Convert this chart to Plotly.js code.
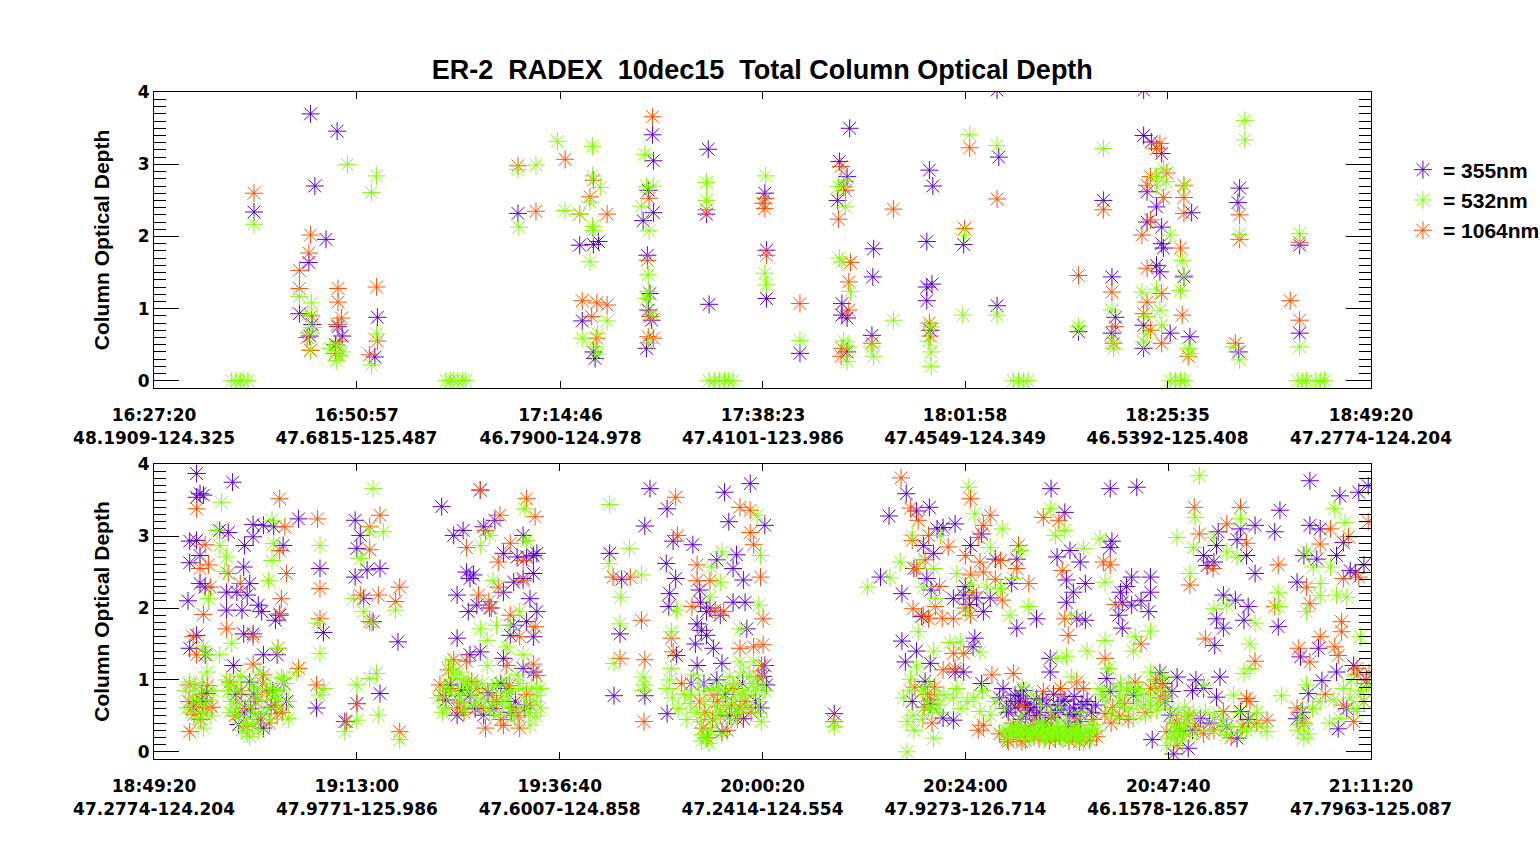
<!DOCTYPE html>
<html>
<head>
<meta charset="utf-8">
<script src="https://cdn.plot.ly/plotly-3.0.1.min.js"></script>
<style>
  body { margin: 0; background: #fff; }
  #chart { width: 1540px; height: 845px; }
</style>
</head>
<body>
<div id="chart"></div>
<script>
const chartTitle = "ER-2\u00a0 RADEX\u00a0 10dec15\u00a0 Total Column Optical Depth"
const yTitle = "Column Optical Depth"

// tick labels: time (UT) and lat-lon of the aircraft
const topTimes = ["16:27:20", "16:50:57", "17:14:46", "17:38:23", "18:01:58", "18:25:35", "18:49:20"]
const topPos = ["48.1909-124.325", "47.6815-125.487", "46.7900-124.978", "47.4101-123.986", "47.4549-124.349", "46.5392-125.408", "47.2774-124.204"]
const botTimes = ["18:49:20", "19:13:00", "19:36:40", "20:00:20", "20:24:00", "20:47:40", "21:11:20"]
const botPos = ["47.2774-124.204", "47.9771-125.986", "47.6007-124.858", "47.2414-124.554", "47.9273-126.714", "46.1578-126.857", "47.7963-125.087"]

const waveNames = ["355nm", "532nm", "1064nm"]
const waveColors = ["#5a00d2", "#80ff00", "#ff5000"]

// time = minutes after 16:00 UT, od = column optical depth

// ---- 355nm ----
const t355Top = [39.0, 45.6, 46.1, 47.4, 45.4, 44.3, 45.8, 45.5, 48.7, 48.8, 49.3, 48.5, 53.4, 53.1,
  69.8, 77.0, 78.6, 79.2, 77.3, 78.8, 78.6,
  85.5, 85.6, 85.0, 85.6, 84.4, 84.9, 85.2, 85.0, 85.4, 84.8, 92.0, 91.8, 92.1,
  98.6, 98.8, 98.8, 102.7, 108.5, 107.3, 108.2, 107.1, 107.6, 107.6, 108.2, 108.2,
  111.3, 111.2, 111.1, 117.8, 118.2, 117.5, 118.1, 117.5, 117.5, 117.9,
  125.7, 125.9, 121.8, 125.7, 138.1, 139.1, 135.2, 139.5, 139.1,
  142.8, 142.8, 143.7, 144.9, 143.2, 144.3, 148.4, 143.2, 144.9, 144.9, 145.1, 144.3, 144.7, 147.5, 142.8, 145.9, 142.8, 148.2,
  154.0, 153.8, 153.9, 161.0, 161.0]
const od355Top = [2.34, 3.70, 2.70, 1.96, 1.64, 0.93, 0.78, 0.62, 3.46, 0.75, 0.62, 0.50, 0.88, 0.33,
  2.32, 1.88, 1.89, 1.93, 0.83, 0.31, 0.40,
  3.41, 3.05, 2.64, 2.33, 2.22, 1.74, 1.21, 0.98, 0.84, 0.45, 3.21, 2.31, 1.06,
  2.60, 1.81, 1.14, 0.38, 3.50, 3.04, 2.83, 2.50, 1.07, 0.91, 0.87, 0.40,
  1.83, 1.44, 0.63, 2.92, 2.70, 1.93, 1.34, 1.30, 1.11, 0.70,
  4.03, 3.10, 1.89, 1.04, 2.50, 1.44, 0.68, 0.88, 0.66,
  4.03, 3.40, 3.31, 3.15, 2.62, 2.41, 2.33, 2.20, 2.13, 1.90, 1.84, 1.60, 1.51, 1.44, 0.77, 0.66, 0.45, 0.61,
  2.67, 2.47, 0.40, 1.88, 0.66]

const t355Bot = [174.3, 174.7, 175.1, 174.3, 173.5, 174.3, 173.5, 174.7, 174.7, 175.3, 173.3, 174.3, 173.5, 175.3, 175.5,
  178.5, 177.0, 178.0, 179.9, 180.9, 180.9, 182.1, 183.3, 184.4, 179.8, 177.8, 179.0, 180.5, 180.2, 181.5, 181.9,
  177.8, 179.6, 183.5, 179.8, 180.9, 184.0, 178.6, 180.5, 182.1, 183.7, 184.8, 182.1, 179.2, 181.0, 183.0, 179.9,
  186.2, 188.7, 189.1, 188.3, 192.8, 193.4, 192.8, 193.0, 194.2, 195.7, 193.8, 194.9, 195.7, 197.8, 191.6, 193.0,
  202.9, 204.3, 205.4, 207.4, 207.8, 209.1, 210.1, 211.7, 212.4, 212.8, 213.6, 214.0, 206.2, 205.8,
  206.6, 204.7, 206.0, 207.0, 208.5, 210.1, 211.3, 212.4, 213.6, 214.0, 213.2, 212.8, 210.9, 211.3, 213.6,
  204.7, 206.2, 207.4, 210.1, 212.4, 203.9, 206.2, 207.8, 210.5, 213.6, 204.7, 209.0, 211.5,
  227.2, 229.2, 226.6, 222.5, 223.9, 229.1, 229.9, 232.2, 230.2, 229.5, 229.4, 223.7, 232.7, 233.2, 233.8,
  234.6, 232.5, 232.7, 235.6, 223.0, 226.6, 229.2, 235.9, 238.9, 236.4, 240.6, 237.3, 236.9, 238.1, 235.0,
  233.1, 233.8, 235.4, 236.9, 238.3, 238.5, 240.6, 240.8, 240.1, 235.6, 238.1, 230.3, 233.0, 234.2, 236.0, 232.0, 248.7,
  257.1, 255.1, 258.3, 259.8, 261.4, 260.7, 259.1, 260.3, 254.1, 256.6, 259.5,
  258.9, 256.6, 258.3, 259.9, 257.0, 257.8, 261.4, 262.6, 262.8, 260.0, 258.0,
  262.8, 264.6, 265.9, 267.5, 270.0, 263.8, 265.3, 266.1, 266.9, 269.4, 270.0, 272.3, 274.0, 275.6, 274.7,
  276.2, 277.4, 275.8, 276.6, 278.0, 275.8, 277.0, 278.0, 265.1, 264.9, 263.8, 265.9, 268.4, 269.8, 273.9,
  273.9, 271.2, 272.3, 262.6, 275.4, 276.6, 277.4, 264.0, 264.5, 268.8, 270.5, 271.8, 273.3, 274.5, 276.0,
  268.0, 269.0, 270.2, 271.0, 272.0, 273.0, 274.0, 275.0, 276.8, 277.6, 270.8,
  280.9, 284.0, 281.1, 280.9, 282.1, 282.3, 283.4, 285.6, 285.6, 285.4, 283.4, 281.9, 282.3, 280.5, 280.9, 283.6, 285.8, 282.8, 284.5,
  288.7, 288.1, 287.9, 288.3,
  291.8, 293.0, 293.3, 292.2, 293.5, 296.1, 295.7, 296.8, 297.8, 297.8, 294.1, 295.5, 297.0, 296.5,
  294.1, 293.3, 293.1, 293.7, 291.8, 293.3, 291.4, 296.1, 295.7, 290.5, 292.5, 294.5, 297.0,
  300.7, 300.1, 304.2, 304.2, 305.4, 307.3, 307.7, 309.9, 308.1, 303.5, 302.7, 305.0, 308.9, 309.5,
  300.5, 305.2, 303.1, 305.6, 304.0, 307.3, 309.3, 307.5, 302.7, 310.5, 311.0, 310.8, 303.3, 308.5,
  173.9, 175.0, 178.9, 180.6, 181.8, 183.2, 184.5,
  203.4, 205.2, 206.8, 208.3, 209.8, 211.0, 212.6, 233.5, 235.0, 236.5, 238.0, 239.5, 240.4,
  259.3, 259.9, 269.3, 269.8, 270.4, 271.0, 271.5, 272.3, 272.7, 273.5, 274.3, 274.8, 275.6, 276.2, 276.7, 277.5, 278.2, 278.7, 279.2,
  286.7, 287.0, 287.3, 290.5, 290.9, 290.0]
const od355Bot = [3.87, 3.59, 3.57, 3.54, 2.93, 2.94, 2.63, 2.73, 2.34, 2.29, 2.10, 1.62, 1.44, 1.35, 0.81,
  3.75, 3.08, 3.05, 2.87, 3.16, 2.99, 3.15, 3.13, 2.87, 2.57, 2.22, 2.22, 2.34, 2.18, 2.04, 1.95,
  1.97, 1.97, 1.83, 1.64, 1.64, 1.90, 1.20, 0.97, 1.35, 1.35, 0.70, 0.33, 0.38, 0.80, 0.62, 0.55,
  3.24, 2.55, 1.66, 0.61, 3.22, 3.01, 2.43, 2.83, 2.53, 2.55, 2.13, 1.81, 0.81, 1.53, 0.42, 0.67,
  3.41, 3.01, 3.08, 3.64, 3.13, 3.22, 2.76, 2.71, 3.01, 2.71, 2.73, 2.76, 2.41, 2.50,
  2.46, 2.18, 1.95, 2.04, 2.00, 2.22, 2.36, 2.41, 2.48, 1.95, 2.13, 1.81, 1.62, 1.76, 1.60,
  1.58, 1.35, 1.39, 1.30, 1.16, 0.93, 0.79, 0.51, 0.88, 1.11, 0.51, 0.60, 0.70,
  3.66, 3.38, 3.14, 2.76, 2.40, 2.62, 2.93, 2.88, 2.41, 2.20, 2.02, 1.64, 1.78, 1.69, 1.62,
  1.44, 1.50, 1.20, 1.23, 0.78, 0.78, 0.53, 3.61, 3.73, 3.20, 3.15, 2.74, 2.55, 2.39, 2.67,
  2.08, 1.95, 1.90, 2.08, 2.08, 1.71, 1.20, 0.93, 0.61, 0.28, 0.46, 1.34, 2.25, 2.00, 0.80, 0.95, 0.53,
  3.59, 3.28, 3.35, 3.40, 3.12, 3.10, 2.87, 2.76, 2.43, 2.20, 2.41,
  1.88, 1.54, 1.40, 1.23, 1.25, 0.70, 0.47, 2.13, 1.11, 2.25, 2.55,
  3.17, 2.87, 3.03, 2.68, 2.68, 2.18, 2.14, 1.95, 2.14, 2.34, 1.72, 1.85, 3.66, 3.33, 2.71,
  2.80, 2.64, 2.39, 2.22, 2.34, 2.08, 1.85, 1.83, 1.58, 1.46, 1.11, 0.95, 0.88, 0.79, 1.30,
  1.11, 0.65, 0.51, 0.44, 0.70, 0.61, 0.42, 2.30, 2.05, 0.60, 0.45, 0.35, 0.40, 0.55, 0.35,
  0.75, 0.55, 0.70, 0.50, 0.62, 0.72, 0.48, 0.58, 0.50, 0.66, 0.85,
  3.66, 3.68, 2.93, 2.84, 2.22, 2.08, 2.43, 2.43, 2.22, 1.95, 2.04, 1.90, 1.72, 1.02, 0.84, 0.79, 0.17, 2.30, 2.10,
  1.04, 0.84, 0.51, -0.03,
  2.73, 2.64, 2.87, 2.59, 3.06, 3.10, 2.95, 2.73, 3.15, 2.48, 2.18, 2.11, 2.02, 1.83,
  1.72, 1.85, 1.48, 1.04, 0.88, 0.76, 0.46, 0.56, 0.19, 0.30, 0.40, 0.35, 0.45,
  3.36, 3.06, 3.77, 3.15, 3.10, 2.73, 3.56, 3.61, 2.91, 2.73, 2.36, 2.68, 2.52, 2.49,
  1.74, 1.44, 1.32, 0.99, 0.81, 1.11, 1.20, 0.32, 0.46, 2.60, 3.70, 1.00, 0.55, 0.60,
  0.62, 0.70, 0.80, 0.60, 0.45, 0.85, 0.95,
  0.72, 0.85, 0.60, 0.82, 0.95, 0.55, 0.60, 0.95, 1.00, 0.50, 0.95, 0.70, 1.05,
  0.98, 0.66, 0.70, 0.62, 0.78, 0.68, 0.58, 0.74, 0.55, 0.66, 0.80, 0.64, 0.72, 0.52, 0.77, 0.60, 0.70, 0.55, 0.65,
  1.10, 0.95, 0.70, 0.85, 1.00, 0.05]

// ---- 532nm ----
const t532Top = [36.4, 36.9, 37.4, 37.8, 38.3, 39.0,
  44.3, 45.7, 45.3, 45.9, 45.4, 45.6, 47.9, 48.7, 49.0, 48.6, 49.3, 49.9, 52.7, 53.3, 53.3, 52.7,
  61.4, 61.9, 62.3, 62.8, 63.3, 63.7, 69.8, 69.9, 71.9,
  74.4, 78.5, 78.5, 79.4, 78.2, 75.3, 77.0, 78.5, 78.6, 78.2, 80.2, 77.3, 79.1, 78.8, 79.0,
  84.6, 84.8, 85.6, 84.2, 85.1, 85.0, 85.0, 84.8, 85.4, 85.0, 91.8, 91.8,
  92.1, 92.7, 93.3, 93.9, 94.4, 94.9, 98.7, 98.6, 98.8, 102.7,
  107.2, 108.0, 108.0, 107.3, 107.6, 108.6, 108.4, 108.2, 107.8, 113.6, 111.1, 111.3,
  117.9, 117.7, 118.0, 118.0, 122.5, 125.7, 121.9, 121.7, 125.7,
  127.6, 128.2, 128.8, 129.3, 138.1, 135.2, 139.1, 139.3, 139.2,
  145.1, 144.3, 144.3, 145.4, 147.6, 145.9, 147.3, 147.5, 147.1, 142.6, 144.3, 144.7, 143.2, 144.9, 143.2, 142.8, 148.0, 148.2,
  145.9, 146.5, 147.1, 147.6, 154.6, 154.6, 154.0, 153.3, 154.0, 161.0, 161.0,
  160.8, 161.3, 161.8, 162.9, 163.4, 163.9]
const od532Top = [0, 0, 0, 0, 0, 2.17,
  1.17, 1.08, 0.92, 0.74, 0.66, 0.43, 0.45, 0.50, 0.35, 0.28, 0.40, 3.00, 2.61, 2.84, 0.65, 0.22,
  0, 0, 0, 0, 0, 0, 2.93, 2.13, 2.99,
  3.32, 3.25, 2.84, 2.68, 2.48, 2.36, 2.31, 2.14, 2.08, 1.65, 0.83, 0.59, 0.65, 0.47, 0.37,
  3.14, 2.69, 2.70, 2.42, 2.08, 1.47, 1.24, 1.14, 0.93, 0.52, 2.75, 2.50,
  0, 0, 0, 0, 0, 0, 2.84, 1.49, 1.33, 0.56,
  2.69, 2.78, 2.41, 1.70, 1.65, 1.24, 0.47, 0.27, 0.55, 0.84, 0.47, 0.34,
  0.75, 0.55, 0.40, 0.20, 3.41, 3.26, 2.02, 0.91, 0.91,
  0, 0, 0, 0, 3.22, 0.75, 0.98, 0.45, 0.55,
  2.94, 2.83, 2.71, 2.76, 2.70, 2.02, 1.67, 1.46, 1.25, 1.23, 1.27, 0.98, 0.89, 0.77, 0.66, 0.54, 0.45, 0.38,
  0, 0, 0, 0, 3.61, 3.34, 2.03, 0.47, 0.29, 2.04, 0.47,
  0, 0, 0, 0, 0, 0]

const t532Bot = [175.7, 175.1, 173.5, 173.2, 174.5, 174.7, 175.5, 175.5, 175.1, 173.8, 174.9, 175.2,
  177.2, 176.7, 177.0, 177.8, 177.6, 183.1, 183.3, 183.1, 182.7, 178.4, 177.0, 183.8, 184.2, 186.0, 185.0,
  178.6, 179.0, 179.8, 180.2, 180.5, 181.3, 182.1, 182.9, 183.7, 184.4, 181.7, 179.4, 178.0, 178.4, 179.2, 179.6, 180.0, 180.4,
  180.8, 181.0, 181.5, 181.9, 182.3, 182.6, 183.0, 183.4, 183.9, 184.2, 184.6, 185.0, 177.8, 178.2, 179.0, 180.6, 181.1,
  188.7, 188.4, 188.7, 188.7, 189.1, 194.9, 194.5, 196.1, 193.4, 192.6, 193.8, 194.7, 197.5, 193.0, 194.5, 195.3, 195.5, 191.6, 193.0, 198.0,
  212.6, 212.8, 208.5, 207.4, 208.9, 212.0, 207.4, 209.3, 210.9, 208.2, 210.5, 212.4, 205.0, 204.7, 203.9, 205.8,
  207.0, 208.2, 209.3, 210.5, 211.7, 212.4, 213.6, 214.4, 203.5, 206.6, 208.5, 210.9, 213.2, 214.4,
  204.2, 205.4, 206.4, 207.8, 209.0, 210.0, 211.0, 212.0, 213.0, 214.0, 203.2, 204.0, 205.2,
  222.5, 224.8, 222.4, 226.2, 223.8, 223.7, 223.0, 226.4, 226.6, 229.7, 229.7, 230.3, 234.4, 235.6, 235.4, 234.2, 239.9, 237.7,
  240.1, 239.7, 232.3, 229.2, 231.9, 233.1, 233.4, 233.2, 234.6, 236.2, 236.9, 238.1, 239.3, 240.2, 235.6, 237.7, 239.3,
  232.0, 232.6, 233.5, 234.0, 234.8, 235.2, 235.8, 236.5, 237.1, 237.5, 237.9, 238.4, 238.8, 239.6, 240.0, 240.6, 229.8, 230.5, 231.2, 231.5, 226.4, 229.5,
  248.7, 252.6, 255.2, 256.4, 257.8, 258.7, 260.3, 261.1, 259.1, 260.5, 258.5, 260.3, 262.2, 257.6,
  258.3, 259.7, 257.2, 257.9, 260.3, 257.2, 262.6, 256.8, 257.5, 258.0, 259.0, 260.8, 261.5,
  264.4, 265.1, 266.9, 268.3, 270.4, 263.0, 264.6, 266.5, 268.1, 269.6, 271.4, 264.2, 269.2, 273.9, 274.5,
  275.6, 277.8, 276.4, 263.4, 265.7, 263.0, 264.2, 265.7, 266.9, 268.6, 270.6, 271.9, 274.7, 275.8, 278.2,
  276.4, 273.9, 268.4, 270.0, 271.6, 272.7, 273.9, 275.1, 276.2, 277.4, 277.8, 269.2, 271.9, 274.7, 277.0,
  268.8, 269.5, 270.3, 270.8, 271.2, 272.2, 273.0, 273.5, 274.2, 274.9, 275.5, 276.0, 276.8, 277.2, 278.0,
  272.5, 275.8, 270.5, 277.5, 263.5, 265.0, 266.0, 267.5, 272.8, 275.0,
  279.7, 280.3, 283.8, 283.6, 285.6, 280.3, 280.7, 282.1, 285.6, 279.7, 281.7, 283.6, 285.6, 280.5, 281.0, 282.0, 282.8, 283.2, 284.5, 285.0, 280.0, 284.0,
  287.5, 287.9, 287.9, 289.1, 289.5, 287.5, 288.3, 288.8, 287.8,
  291.3, 290.8, 288.7, 290.6, 293.0, 294.5, 295.7, 296.1, 290.2, 293.0, 294.5, 297.8, 297.2, 296.5, 297.2, 291.8, 295.3,
  293.0, 293.7, 296.1, 297.2, 294.5, 291.0, 299.2, 290.5, 292.0, 292.5, 294.0, 295.0, 295.9, 296.8, 298.0, 298.5,
  303.8, 304.6, 306.6, 305.4, 307.1, 308.3, 300.5, 300.5, 303.8, 305.4, 307.3, 308.5, 310.1, 303.8, 305.4, 303.1, 303.5,
  303.5, 308.1, 308.9, 309.7, 307.7, 309.3, 310.1, 300.9, 302.8, 303.0, 304.0, 304.5, 309.0, 310.5, 311.0, 306.5, 307.0,
  173.0, 173.7, 174.1, 174.6, 175.0, 175.8, 176.2, 176.0,
  202.5, 203.0, 203.7, 204.9, 205.6, 206.0, 206.9, 207.6, 208.0, 208.8, 209.6, 210.3, 210.7, 211.4, 211.9, 212.7, 213.4, 213.9,
  232.9, 233.7, 234.3, 234.9, 235.4, 236.1, 236.7, 237.3, 238.0, 238.6, 239.1, 239.8, 240.4, 233.8, 234.1,
  259.0, 259.4, 259.8, 260.2, 260.6, 261.0,
  268.7, 269.1, 269.9, 270.6, 271.4, 271.8, 272.4, 272.9, 273.3, 273.7, 274.4, 274.6, 275.3,
  275.7, 276.3, 276.6, 277.0, 277.6, 278.3, 278.6, 279.0, 279.4, 278.8, 270.1, 273.1,
  281.3, 281.9, 282.4, 283.0, 284.2, 284.8, 285.3, 286.0, 286.5, 286.9, 287.2, 286.3,
  288.4, 288.9, 289.3, 289.8, 290.2, 290.6, 289.6]
const od532Bot = [2.13, 1.46, 0.97, 0.61, 0.46, 0.79, 1.11, 1.35, 0.33, 0.75, 0.55, 0.65,
  3.47, 3.08, 2.87, 2.71, 2.51, 3.22, 2.90, 2.66, 2.38, 1.51, 1.35, 1.44, 1.04, 1.11, 0.46,
  0.93, 0.61, 0.38, 0.25, 0.21, 0.79, 0.51, 0.88, 0.74, 1.02, 1.11, 1.05, 0.85, 0.70, 0.50, 0.30, 0.45, 0.65,
  0.40, 0.55, 0.30, 0.72, 0.95, 0.60, 0.45, 0.80, 0.62, 0.85, 0.95, 0.70, 1.00, 0.55, 0.85, 0.90, 0.95,
  2.87, 1.79, 1.37, 0.79, 0.88, 3.66, 3.06, 3.06, 2.69, 2.13, 1.95, 1.79, 1.97, 0.93, 1.02, 1.09, 0.51, 0.28, 0.44, 0.17,
  3.38, 2.94, 3.01, 2.87, 2.38, 1.95, 1.71, 1.76, 1.76, 1.55, 1.46, 1.35, 1.11, 1.02, 1.25, 0.88,
  0.93, 1.20, 0.93, 0.83, 1.07, 0.88, 0.70, 0.88, 0.61, 0.65, 0.56, 0.56, 0.37, 0.61,
  1.08, 0.95, 0.80, 0.75, 0.68, 0.72, 0.85, 0.60, 0.55, 0.78, 0.90, 1.15, 0.70,
  3.44, 2.83, 2.62, 2.46, 2.15, 1.78, 1.23, 1.04, 0.93, 1.67, 1.16, 1.97, 2.57, 2.78, 2.36, 2.15, 2.04, 1.71,
  2.73, 3.29, 1.07, 0.88, 0.67, 0.42, 0.24, 0.15, 0.88, 0.61, 0.93, 1.11, 0.79, 0.42, 0.24, 1.25, 1.25,
  0.80, 0.55, 0.70, 0.50, 0.65, 0.90, 0.75, 1.05, 0.75, 0.95, 0.60, 0.85, 1.05, 0.90, 0.70, 0.85, 0.75, 0.60, 0.80, 0.45, 0.85, 1.00,
  0.35, 2.29, 2.42, 2.64, 3.01, 2.62, 2.55, 3.01, 2.29, 2.13, 1.67, 1.40, 1.52, 1.01,
  1.18, 0.61, 0.42, 0.51, 0.19, 0.00, 0.75, 0.75, 0.85, 0.30, 0.45, 0.65, 0.80,
  3.68, 3.31, 2.84, 3.10, 2.80, 2.48, 2.32, 2.29, 2.27, 2.41, 2.02, 1.95, 1.90, 3.38, 3.01,
  3.08, 2.83, 1.90, 1.53, 1.39, 0.88, 0.70, 0.56, 0.51, 0.61, 0.90, 0.79, 1.30, 1.33, 1.40,
  1.04, 0.56, 0.28, 0.24, 0.24, 0.19, 0.24, 0.19, 0.28, 0.19, 0.14, 0.33, 0.33, 0.42, 0.33,
  0.20, 0.30, 0.35, 0.18, 0.28, 0.30, 0.35, 0.22, 0.30, 0.30, 0.25, 0.18, 0.22, 0.30, 0.25,
  0.40, 0.45, 0.50, 0.55, 0.60, 0.75, 0.85, 0.70, 0.65, 0.62,
  2.96, 2.36, 1.60, 1.40, 1.68, 1.55, 1.16, 0.95, 1.11, 0.88, 0.46, 0.46, 0.65, 0.70, 0.55, 0.70, 0.85, 0.60, 0.80, 0.50, 0.80, 0.70,
  0.75, 0.42, 0.19, 0.24, 0.40, 0.09, 0.30, 0.55, 0.60,
  3.84, 3.26, 2.98, 2.84, 2.98, 2.78, 2.71, 3.24, 2.48, 1.99, 2.04, 1.79, 1.50, 1.09, 1.16, 0.93, 0.79,
  0.51, 0.37, 0.28, 0.42, 0.24, 0.28, 0.28, 0.45, 0.55, 0.30, 0.45, 0.35, 0.55, 0.30, 0.55, 0.35,
  2.78, 2.57, 2.57, 2.34, 3.38, 3.19, 2.22, 2.02, 1.95, 2.17, 2.18, 2.15, 1.60, 0.93, 0.70, 0.56, 0.37,
  0.19, 0.88, 0.75, 0.56, 0.46, 0.60, 0.85, 0.78, 0.30, 0.45, 0.25, 0.60, 1.00, 0.70, 0.90, 0.40, 0.72,
  0.85, 0.55, 0.90, 0.68, 0.95, 0.72, 0.85, 0.50,
  0.75, 0.55, 0.85, 0.80, 0.58, 1.00, 0.70, 0.95, 0.62, 0.90, 0.52, 1.00, 0.65, 0.48, 0.95, 0.70, 0.90, 0.50,
  0.95, 0.85, 0.30, 0.45, 0.55, 0.85, 0.45, 0.55, 0.80, 0.65, 0.95, 0.55, 0.95, 0.18, 0.12,
  0.85, 0.70, 0.95, 0.60, 0.78, 0.55,
  0.30, 0.22, 0.27, 0.32, 0.20, 0.27, 0.23, 0.31, 0.17, 0.28, 0.21, 0.35, 0.28,
  0.19, 0.33, 0.24, 0.18, 0.27, 0.32, 0.20, 0.26, 0.30, 0.38, 0.38, 0.40,
  0.90, 0.78, 0.62, 0.95, 0.88, 0.65, 0.80, 0.92, 0.70, 0.85, 1.05, 0.58,
  0.20, 0.35, 0.15, 0.45, 0.25, 0.55, 0.62]

// ---- 1064nm ----
const t1064Top = [39.0, 45.6, 45.4, 44.3, 44.3, 45.7, 45.2, 45.6, 48.8, 48.8, 49.2, 48.7, 49.0, 48.5, 53.3, 53.4, 52.5,
  69.8, 71.9, 75.3, 78.6, 78.2, 77.0, 80.2, 77.3, 79.0, 80.2, 78.4, 79.0,
  85.5, 85.1, 84.9, 85.2, 85.0, 85.6, 91.8, 98.7, 98.6, 98.4, 98.8, 102.7,
  107.5, 107.8, 108.0, 107.2, 108.6, 108.4, 108.4, 107.6, 107.5, 113.6, 111.1, 117.8, 117.9,
  122.5, 125.7, 121.9, 138.1, 135.2, 139.1, 139.5, 139.3,
  144.7, 144.3, 145.5, 143.6, 143.2, 145.1, 147.5, 147.5, 147.5, 143.6, 142.6, 147.1, 143.2, 147.3, 143.2, 144.9, 142.8, 143.6, 144.9, 148.0,
  154.0, 154.0, 153.5, 159.9, 161.0, 161.0]
const od1064Top = [2.60, 2.02, 1.77, 1.53, 1.28, 0.90, 0.60, 0.42, 1.28, 1.09, 0.87, 0.78, 0.55, 0.38, 1.30, 0.55, 0.36,
  2.98, 2.35, 3.07, 2.78, 2.55, 2.31, 2.31, 1.11, 1.08, 1.05, 0.89, 0.59,
  3.66, 2.53, 1.67, 0.89, 0.61, 0.59, 2.37, 2.53, 2.39, 2.46, 1.74, 1.07,
  2.97, 2.69, 2.64, 2.24, 1.64, 1.37, 0.98, 0.45, 0.34, 2.38, 0.52, 0.80, 0.62,
  3.23, 2.52, 2.11, 2.37, 1.46, 1.23, 0.75, 0.52,
  3.29, 3.22, 2.88, 2.83, 2.71, 2.54, 2.71, 2.54, 2.32, 2.23, 2.02, 1.84, 1.56, 0.91, 1.09, 1.21, 0.93, 0.70, 0.52, 0.34,
  2.30, 1.96, 0.52, 1.11, 1.92, 0.84]

const t1064Bot = [174.3, 175.3, 174.7, 175.7, 175.9, 175.1, 173.9, 174.3, 173.5, 174.3, 175.5, 173.5, 174.9,
  184.0, 184.6, 184.0, 184.8, 184.2, 184.0, 178.0, 177.8, 180.9, 179.4, 180.9, 182.1, 183.8, 183.7, 186.2, 178.2, 182.5, 180.0, 181.5, 179.0,
  188.4, 188.7, 188.7, 188.3, 194.5, 195.7, 194.5, 193.4, 195.5, 194.5, 197.5, 198.0, 198.0, 193.0, 191.8,
  207.4, 208.0, 209.7, 210.9, 212.8, 213.8, 209.5, 212.4, 205.8, 207.2, 208.4, 208.7, 209.5, 212.4, 210.9, 212.0,
  213.8, 204.3, 203.7, 205.8, 210.5, 213.6, 214.0, 202.7, 204.7, 208.0, 210.1, 212.0, 211.3, 209.3, 207.0, 205.5, 212.8,
  230.2, 230.4, 226.2, 223.7, 226.6, 226.5, 222.9, 224.9, 229.7, 229.9, 232.7, 232.7, 234.2, 232.1, 234.8, 235.8, 237.7,
  238.9, 238.9, 239.3, 240.1, 240.4, 237.7, 239.3, 240.4, 234.6, 236.9, 233.4, 235.4, 237.7, 230.9, 233.0, 236.2,
  248.7, 256.5, 257.6, 258.5, 259.7, 257.8, 258.3, 259.3, 257.9, 259.1, 259.7, 261.3, 260.5, 258.1, 260.1, 261.4, 262.6, 261.0, 262.0,
  264.6, 266.1, 266.9, 265.5, 264.0, 265.7, 268.1, 270.2, 264.6, 266.1, 264.9, 271.4, 268.3, 262.6, 264.6,
  273.1, 274.9, 275.3, 275.6, 276.0, 263.8, 262.8, 267.1, 269.6, 270.6, 266.1, 265.5, 269.0, 270.6, 273.1, 275.1,
  277.8, 277.0, 264.0, 267.5, 270.0, 272.0, 273.5, 274.5, 276.5, 277.5, 271.0, 268.0, 280.1,
  280.9, 280.3, 283.8, 285.6, 280.3, 282.6, 281.5, 284.5, 281.0, 283.0, 285.0, 287.5, 288.7, 289.0,
  290.7, 291.3, 292.9, 294.5, 296.1, 296.8, 290.2, 292.0, 297.8, 296.8, 297.2, 294.1, 299.2, 291.8, 293.0, 295.0, 296.3, 298.0,
  300.5, 300.1, 305.4, 306.6, 308.7, 303.8, 304.2, 308.1, 309.9, 302.9, 304.2, 305.4, 307.1, 307.9,
  307.9, 307.5, 309.7, 309.7, 302.7, 308.1, 309.3, 310.8, 311.0, 310.5, 303.5, 306.0, 311.1,
  173.4, 174.0, 174.8, 175.6, 176.1, 178.8, 179.5, 180.2, 181.2, 182.0, 182.8, 183.5, 184.3,
  203.0, 204.0, 205.0, 206.4, 207.5, 208.8, 209.8, 210.8, 211.8, 213.2,
  233.6, 234.5, 235.1, 236.7, 237.4, 238.3, 239.0, 239.8, 240.2, 233.9,
  259.2, 259.6, 260.0, 260.4,
  268.9, 270.0, 271.0, 272.6, 273.8, 275.0, 276.1, 277.3, 278.5, 279.3, 269.6, 272.0, 274.0, 276.9, 278.9,
  281.2, 282.0, 286.2, 286.8, 287.0, 288.6, 289.5, 290.1, 290.8]
const od1064Bot = [3.38, 2.88, 2.55, 2.60, 2.29, 1.91, 1.60, 1.35, 0.93, 0.68, 0.61, 0.28, 0.80,
  3.52, 3.13, 2.80, 2.48, 2.13, 1.92, 2.48, 1.71, 1.60, 2.34, 1.22, 1.07, 1.44, 0.53, 1.16, 0.97, 0.83, 0.60, 0.45, 0.70,
  3.24, 2.27, 1.85, 0.93, 3.13, 3.29, 2.81, 2.18, 2.18, 1.81, 2.09, 2.29, 0.28, 0.67, 0.42,
  3.64, 3.08, 3.29, 2.90, 3.52, 3.27, 2.64, 2.66, 2.84, 2.18, 2.09, 2.00, 2.29, 2.38, 1.90, 1.60,
  1.74, 1.28, 1.14, 1.26, 1.20, 1.22, 1.06, 0.93, 0.61, 0.33, 0.37, 0.33, 0.61, 0.70, 0.88, 0.55, 0.80,
  3.54, 3.01, 1.83, 1.30, 1.28, 0.42, 2.43, 2.43, 1.58, 1.39, 2.60, 2.38, 2.38, 2.02, 1.97, 1.95, 3.40,
  3.36, 3.05, 2.88, 2.43, 1.85, 1.44, 1.46, 1.49, 0.79, 0.88, 0.33, 0.51, 0.61, 0.95, 0.70, 0.30,
  0.42, 3.81, 3.39, 3.22, 3.01, 2.94, 2.55, 2.67, 1.99, 1.90, 1.85, 1.86, 2.02, 0.90, 0.40, 1.14, 1.37, 2.30, 2.85,
  3.52, 3.15, 3.29, 2.98, 2.73, 2.64, 2.66, 2.87, 2.46, 2.50, 2.22, 2.34, 2.11, 1.85, 1.90,
  3.26, 3.22, 2.52, 1.85, 1.62, 1.37, 1.16, 1.07, 1.09, 0.63, 0.37, 0.30, 0.14, 0.14, 0.84, 0.88,
  0.88, 0.97, 2.00, 2.40, 2.55, 0.22, 0.30, 0.18, 0.25, 0.20, 0.30, 0.25, 2.64,
  2.60, 1.30, 0.97, 0.88, 0.53, 0.67, 2.05, 1.50, 0.40, 0.45, 0.55, 0.28, 0.09, 0.35,
  3.40, 3.03, 2.55, 3.17, 3.40, 2.90, 2.32, 1.57, 1.26, 0.74, 0.70, 0.56, 0.44, 0.25, 0.30, 0.20, 0.35, 0.40,
  2.60, 2.02, 2.89, 3.10, 2.99, 2.29, 2.06, 2.41, 2.43, 1.44, 1.25, 1.60, 1.46, 1.81,
  1.67, 1.34, 1.16, 1.07, 0.61, 0.65, 0.42, 0.95, 3.20, 0.70, 0.40, 0.80, 1.10,
  0.70, 0.52, 0.45, 0.92, 0.62, 0.50, 0.85, 0.35, 0.70, 0.95, 0.40, 0.65, 0.55,
  0.78, 0.88, 0.68, 0.98, 0.62, 0.78, 0.45, 0.92, 0.50, 0.65,
  0.55, 0.45, 0.70, 0.65, 0.45, 0.70, 0.55, 1.05, 1.20, 0.20,
  0.62, 0.80, 0.72, 0.90,
  0.17, 0.21, 0.16, 0.18, 0.15, 0.22, 0.15, 0.14, 0.16, 0.21, 0.40, 0.45, 0.50, 0.42, 0.45,
  0.62, 0.50, 1.00, 0.75, 0.90, 0.40, 0.28, 0.50, 0.35]

function toMin(s){
  let p = s.split(":").map(Number)
  return (p[0] - 16) * 60 + p[1] + p[2] / 60
}

let series = [
  {i: 0, top: [t355Top, od355Top], bot: [t355Bot, od355Bot]},
  {i: 1, top: [t532Top, od532Top], bot: [t532Bot, od532Bot]},
  {i: 2, top: [t1064Top, od1064Top], bot: [t1064Bot, od1064Bot]}
]
// purple first, then orange, green ends up on top like the original
let drawOrder = [0, 2, 1]

let traces = []
for (let k of drawOrder) {
  let s = series[k]
  let mk = {symbol: 'asterisk-open', size: 15, color: waveColors[s.i], line: {width: 1, color: waveColors[s.i]}}
  traces.push({x: s.top[0], y: s.top[1], xaxis: 'x', yaxis: 'y', type: 'scatter', mode: 'markers',
    marker: mk, name: '= ' + waveNames[s.i], legendrank: s.i + 1, showlegend: true})
  traces.push({x: s.bot[0], y: s.bot[1], xaxis: 'x2', yaxis: 'y2', type: 'scatter', mode: 'markers',
    marker: mk, showlegend: false})
}

let tickFont = {family: 'DejaVu Sans, sans-serif', size: 17, color: '#000', weight: 'bold'}
let titleFont = {family: 'Liberation Sans, Arial, sans-serif', size: 21, color: '#000', weight: 'bold'}

function xAxis(times, pos, anchor){
  return {
    domain: [0.1, 0.8903], anchor: anchor,
    range: [toMin(times[0]), toMin(times[times.length - 1])],
    tickmode: 'array',
    tickvals: times.map(toMin),
    ticktext: times.map((t, j) => t + '<br>' + pos[j]),
    ticks: 'inside', ticklen: 7, tickcolor: '#000', tickwidth: 1,
    showline: true, linecolor: '#000', linewidth: 1, mirror: 'ticks',
    showgrid: false, zeroline: false, tickfont: tickFont, tickangle: 0,
    ticklabelstandoff: 12
  }
}
function yAxis(domain, anchor){
  return {
    domain: domain, anchor: anchor,
    range: [-0.1, 4.003],
    tick0: 0, dtick: 1,
    ticks: 'inside', ticklen: 25, tickcolor: '#000', tickwidth: 1,
    minor: {dtick: 0.1, ticks: 'inside', ticklen: 12, tickcolor: '#000', tickwidth: 1, showgrid: false},
    showline: true, linecolor: '#000', linewidth: 1, mirror: 'ticks',
    showgrid: false, zeroline: false, tickfont: tickFont,
    title: {text: yTitle, font: titleFont, standoff: 22}
  }
}

let layout = {
  width: 1540, height: 845,
  margin: {l: 0, r: 0, t: 0, b: 0, pad: 0, autoexpand: false},
  paper_bgcolor: '#fff', plot_bgcolor: '#fff',
  title: {text: chartTitle, font: {family: 'Liberation Sans, Arial, sans-serif', size: 27, color: '#000', weight: 'bold'},
    x: 0.495, xanchor: 'center', y: 1 - 70 / 845, yanchor: 'middle'},
  xaxis: xAxis(topTimes, topPos, 'y'),
  yaxis: yAxis([1 - 388 / 845, 1 - 92 / 845], 'x'),
  xaxis2: xAxis(botTimes, botPos, 'y2'),
  yaxis2: yAxis([1 - 759 / 845, 1 - 464 / 845], 'x2'),
  showlegend: true,
  legend: {x: 0.911, xanchor: 'left', y: 1 - 200 / 845, yanchor: 'middle',
    font: {family: 'Liberation Sans, Arial, sans-serif', size: 21, color: '#000', weight: 'bold'},
    bgcolor: 'rgba(0,0,0,0)', borderwidth: 0, itemwidth: 30, tracegroupgap: 0}
}

Plotly.newPlot('chart', traces, layout, {displayModeBar: false, staticPlot: true})
</script>
</body>
</html>
